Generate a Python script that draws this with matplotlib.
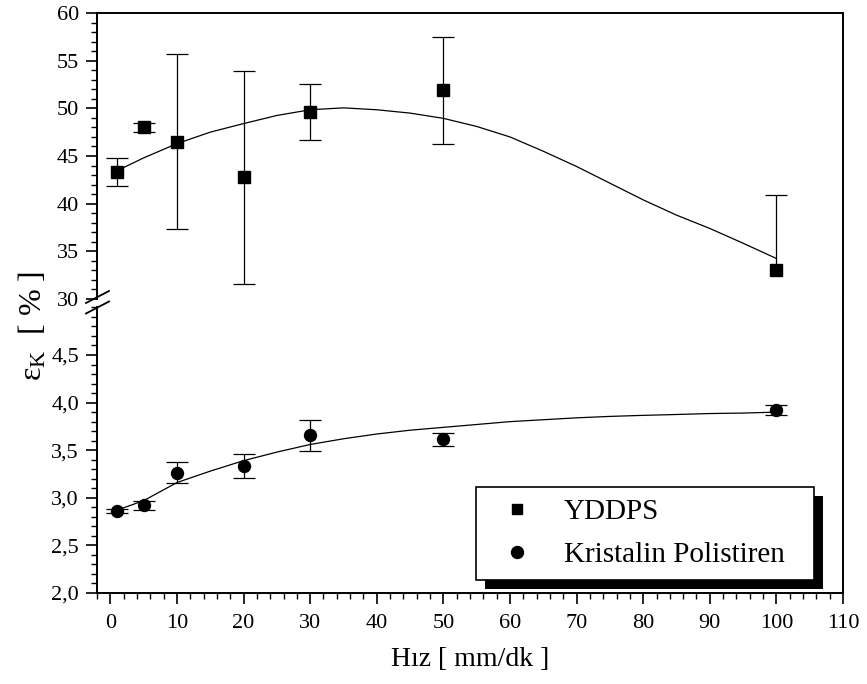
import matplotlib
matplotlib.use("Agg")
import matplotlib.pyplot as plt
from matplotlib.lines import Line2D
from matplotlib.patches import Rectangle
from matplotlib.ticker import FixedLocator, MultipleLocator, FixedFormatter

plt.rcParams["font.family"] = ["Liberation Serif", "DejaVu Serif"]
plt.rcParams["mathtext.fontset"] = "custom"
plt.rcParams["mathtext.rm"] = "Liberation Serif"
plt.rcParams["mathtext.it"] = "Liberation Serif:italic"

# ---- data -------------------------------------------------------------
speed = [1, 5, 10, 20, 30, 50, 100]

yddps = [43.35, 48.0, 46.5, 42.75, 49.64, 51.9, 33.0]
yddps_err_low = [1.45, 0.45, 9.15, 11.14, 2.94, 5.6, 0.0]
yddps_err_high = [1.45, 0.45, 9.15, 11.14, 2.94, 5.6, 7.95]

kps = [2.863, 2.92, 3.265, 3.335, 3.656, 3.614, 3.925]
kps_err = [0.02, 0.045, 0.107, 0.128, 0.16, 0.065, 0.055]

fit_x = [1, 5, 10, 15, 20, 25, 30, 35, 40, 45, 50, 55, 60, 65, 70, 75, 80, 85, 90, 95, 100]
yddps_fit = [43.45, 44.8, 46.3, 47.5, 48.4, 49.25, 49.85, 50.05, 49.85, 49.5, 48.95,
             48.1, 47.0, 45.5, 43.9, 42.15, 40.4, 38.8, 37.4, 35.85, 34.25]
kps_fit = [2.87, 2.97, 3.16, 3.28, 3.39, 3.48, 3.56, 3.62, 3.67, 3.71, 3.74,
           3.77, 3.80, 3.82, 3.84, 3.855, 3.866, 3.875, 3.885, 3.89, 3.90]

x_ticks = [0, 10, 20, 30, 40, 50, 60, 70, 80, 90, 100, 110]
x_tick_labels = ["0", "10", "20", "30", "40", "50", "60", "70", "80", "90", "100", "110"]
top_ticks = [30, 35, 40, 45, 50, 55, 60]
top_tick_labels = ["30", "35", "40", "45", "50", "55", "60"]
bottom_ticks = [2.0, 2.5, 3.0, 3.5, 4.0, 4.5]
bottom_tick_labels = ["2,0", "2,5", "3,0", "3,5", "4,0", "4,5"]

series_names = ["YDDPS", "Kristalin Polistiren"]

# ---- layout (pixels) --------------------------------------------------
W, H = 867, 684
left_px, right_px = 97, 843
top_px, top_bottom_px = 13, 299
bot_top_px, bot_px = 307.4, 593


def fx(px):
    return px / W


def fy(py):
    return 1 - py / H


fig = plt.figure(figsize=(W / 100, H / 100), dpi=100)
ax_top = fig.add_axes([fx(left_px), fy(top_bottom_px), fx(right_px - left_px),
                       (top_bottom_px - top_px) / H])
ax_bot = fig.add_axes([fx(left_px), fy(bot_px), fx(right_px - left_px),
                       (bot_px - bot_top_px) / H])

spine_w = 1.4
for ax in (ax_top, ax_bot):
    for s in ax.spines.values():
        s.set_linewidth(spine_w)
    ax.set_xlim(-2, 110)
    ax.tick_params(axis="both", which="major", direction="out", length=8,
                   width=1.2, labelsize=16, pad=5)
    ax.tick_params(axis="both", which="minor", direction="out", length=4.2,
                   width=1.0)
    ax.tick_params(axis="both", which="both", right=False, top=False)

ax_top.spines["bottom"].set_visible(False)
ax_bot.spines["top"].set_visible(False)
ax_top.tick_params(axis="x", which="both", bottom=False, labelbottom=False)

ax_top.set_ylim(30, 60)
ax_top.yaxis.set_major_locator(FixedLocator(top_ticks))
ax_top.yaxis.set_major_formatter(FixedFormatter(top_tick_labels))
ax_top.yaxis.set_minor_locator(MultipleLocator(1))

ax_bot.set_ylim(2.0, 5.0)
ax_bot.yaxis.set_major_locator(FixedLocator(bottom_ticks))
ax_bot.yaxis.set_major_formatter(FixedFormatter(bottom_tick_labels))
ax_bot.yaxis.set_minor_locator(MultipleLocator(0.1))

ax_bot.xaxis.set_major_locator(FixedLocator(x_ticks))
ax_bot.xaxis.set_major_formatter(FixedFormatter(x_tick_labels))
ax_bot.xaxis.set_minor_locator(MultipleLocator(2))
ax_bot.tick_params(axis="x", which="major", pad=7)

# ---- series ------------------------------------------------------------
ax_top.plot(fit_x, yddps_fit, color="black", lw=0.9, zorder=2)
eb_top = ax_top.errorbar(speed, yddps, yerr=[yddps_err_low, yddps_err_high], fmt="s",
                         ms=8, color="black", ecolor="black", elinewidth=0.9,
                         capsize=7.8, capthick=0.9, zorder=3)
# no cap where an error is zero (one-sided bar)
for cap in eb_top[1]:
    xs, ys = cap.get_data()
    keep = [(x, y) for x, y in zip(xs, ys) if y not in yddps]
    cap.set_data([k[0] for k in keep], [k[1] for k in keep])

ax_bot.plot(fit_x, kps_fit, color="black", lw=0.9, zorder=2)
ax_bot.errorbar(speed, kps, yerr=kps_err, fmt="o", ms=8.6, color="black",
                ecolor="black", elinewidth=0.9, capsize=7.8, capthick=0.9,
                zorder=3)

# ---- axis break ----------------------------------------------------------
# right spine runs through the gap between the two panels
fig.add_artist(Line2D([fx(right_px), fx(right_px)], [fy(top_bottom_px), fy(bot_top_px)],
                      color="black", lw=spine_w, transform=fig.transFigure))
# slanted break marks on the left spine
for (x0, y0, x1, y1) in [(86, 303.0, 109, 291.0), (86, 313.5, 109, 301.5)]:
    fig.add_artist(Line2D([fx(x0), fx(x1)], [fy(y0), fy(y1)], color="black",
                          lw=1.3, transform=fig.transFigure))

# ---- labels ---------------------------------------------------------------
ax_bot.set_xlabel("Hız [ mm/dk ]", fontsize=20, labelpad=10)
fig.text(fx(33), fy(326), "ε$_{\\mathrm{K}}$  [ % ]", rotation=90, fontsize=23,
         ha="center", va="center")

# ---- legend ---------------------------------------------------------------
handles = [Line2D([], [], ls="none", marker="s", ms=7.5, color="black"),
           Line2D([], [], ls="none", marker="o", ms=8.6, color="black")]
leg = ax_bot.legend(
    handles, series_names, loc="upper left",
    bbox_to_anchor=(fx(476), fy(487), fx(814 - 476), 0.0),
    bbox_transform=fig.transFigure, mode="expand", borderaxespad=0,
    fontsize=21, frameon=True, fancybox=False, handlelength=2.05,
    handletextpad=0.56, borderpad=0.39, labelspacing=0.58)
frame = leg.get_frame()
frame.set_edgecolor("black")
frame.set_linewidth(1.2)
frame.set_facecolor("white")
frame.set_alpha(1)
leg.set_zorder(6)

# solid drop shadow behind the legend box
fig.canvas.draw()
bb = leg.get_window_extent()
shadow = Rectangle((bb.x0 + 9, bb.y0 - 9), bb.width, bb.height, facecolor="black",
                   edgecolor="none", transform=None, zorder=5.5)
ax_bot.add_artist(shadow)

fig.savefig("out.png", dpi=100)
